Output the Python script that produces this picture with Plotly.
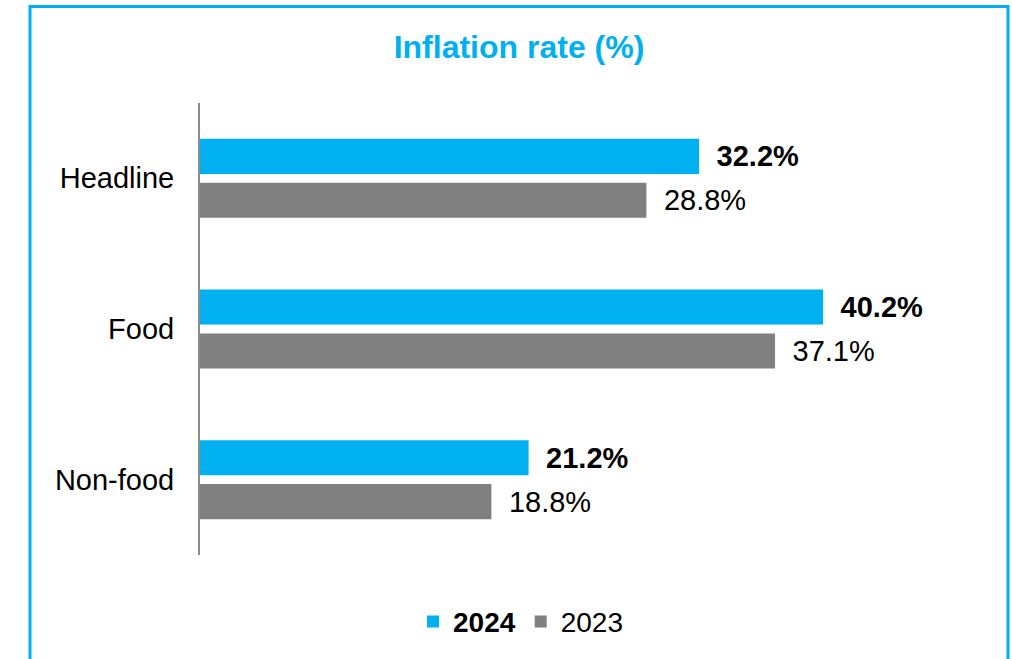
import plotly.graph_objects as go

categories = ["Headline", "Food", "Non-food"]
series_names = ["2024", "2023"]
values_2024 = [32.2, 40.2, 21.2]
values_2023 = [28.8, 37.1, 18.8]

BLUE = "#00B0F0"
GREY = "#808080"
FONT = "Arial, Liberation Sans, sans-serif"

W, H = 1012, 659
PL, PR, PT, PB = 200, 975, 103, 557  # plot area in pixels


def px_x(p):
    return (p - PL) / (PR - PL)


def px_y(p):
    return (PB - p) / (PB - PT)


fig = go.Figure()
fig.add_trace(go.Bar(
    y=categories, x=values_2024, orientation="h", name="<b>" + series_names[0] + "</b>",
    marker=dict(color=BLUE, line=dict(width=0)),
    text=[f"\u2002{v:.1f}%" for v in values_2024], textposition="outside",
    textfont=dict(family=FONT, size=29, color="black", weight="bold"),
    constraintext="none", cliponaxis=False, hoverinfo="skip",
))
fig.add_trace(go.Bar(
    y=categories, x=values_2023, orientation="h", name=series_names[1],
    marker=dict(color=GREY, line=dict(width=0)),
    text=[f"\u2002{v:.1f}%" for v in values_2023], textposition="outside",
    textfont=dict(family=FONT, size=29, color="black"),
    constraintext="none", cliponaxis=False, hoverinfo="skip",
))

fig.update_layout(
    width=W, height=H,
    margin=dict(l=PL, r=W - PR, t=PT, b=H - PB, pad=0),
    paper_bgcolor="white", plot_bgcolor="white",
    barmode="group", bargap=0.417, bargroupgap=0.2,
    font=dict(family=FONT, size=29, color="black"),
    title=dict(text="<b>Inflation rate (%)</b>", font=dict(family=FONT, size=32, color=BLUE),
               xref="container", x=519 / W, xanchor="center",
               yref="container", y=1 - 47 / H, yanchor="middle"),
    xaxis=dict(range=[0, 50], visible=False, showgrid=False, zeroline=False),
    yaxis=dict(autorange="reversed", showline=True, linecolor="#8C8C8C", linewidth=2,
               ticks="", ticklabelstandoff=18, showgrid=False, zeroline=False,
               tickfont=dict(family=FONT, size=29, color="black")),
    legend=dict(orientation="h", x=px_x(521), xanchor="center", y=px_y(624), yanchor="middle",
                font=dict(family=FONT, size=28, color="black"), traceorder="normal",
                itemclick=False),
    showlegend=True,
    shapes=[dict(type="rect", xref="paper", yref="paper",
                 x0=px_x(30), x1=px_x(1008), y0=px_y(700), y1=px_y(6),
                 line=dict(color=BLUE, width=3), fillcolor="rgba(0,0,0,0)", layer="below")],
)

fig.write_html("out.html",
               config={"displayModeBar": False, "staticPlot": True},
               post_script="document.body.style.margin='0';document.body.style.overflow='hidden';")
